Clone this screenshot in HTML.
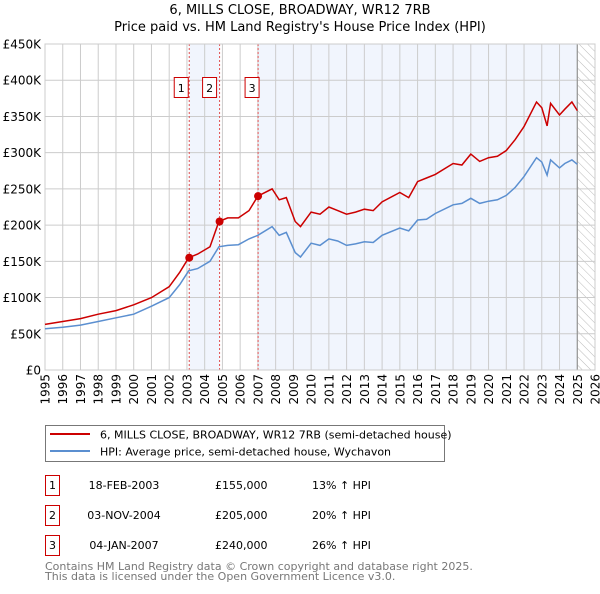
<!DOCTYPE html>
<html><head><meta charset="utf-8"><style>
body{margin:0;background:#fff;font-family:"DejaVu Sans","Liberation Sans",sans-serif;}
svg text{font-family:"DejaVu Sans","Liberation Sans",sans-serif;}
</style></head><body>
<svg id="chart" width="600" height="590" xmlns="http://www.w3.org/2000/svg">
<defs><pattern id="hatch" width="6" height="6" patternUnits="userSpaceOnUse" patternTransform="rotate(-45)"><line x1="0" y1="0" x2="0" y2="6" stroke="#bbb" stroke-width="1"/></pattern></defs>
<text x="300" y="14" text-anchor="middle" font-size="13">6, MILLS CLOSE, BROADWAY, WR12 7RB</text>
<text x="300" y="31" text-anchor="middle" font-size="13">Price paid vs. HM Land Registry's House Price Index (HPI)</text>
<g id="plot"></g>
<g>
<rect x="45.5" y="425.5" width="399" height="36" fill="#fff" stroke="#777"/>
<line x1="50" y1="434" x2="90" y2="434" stroke="#cc0000" stroke-width="2"/>
<text x="100" y="438.5" font-size="11">6, MILLS CLOSE, BROADWAY, WR12 7RB (semi-detached house)</text>
<line x1="50" y1="451" x2="90" y2="451" stroke="#5b8fd0" stroke-width="2"/>
<text x="100" y="455.5" font-size="11">HPI: Average price, semi-detached house, Wychavon</text>
</g>
<g font-size="11">
<rect x="45.5" y="475.5" width="14" height="20" fill="#fff" stroke="#cc0000"/><text x="52.5" y="489" text-anchor="middle">1</text>
<text x="124" y="489" text-anchor="middle">18-FEB-2003</text><text x="215" y="489">£155,000</text><text x="312" y="489">13% ↑ HPI</text>
<rect x="45.5" y="505.5" width="14" height="20" fill="#fff" stroke="#cc0000"/><text x="52.5" y="519" text-anchor="middle">2</text>
<text x="124" y="519" text-anchor="middle">03-NOV-2004</text><text x="215" y="519">£205,000</text><text x="312" y="519">20% ↑ HPI</text>
<rect x="45.5" y="535.5" width="14" height="20" fill="#fff" stroke="#cc0000"/><text x="52.5" y="549" text-anchor="middle">3</text>
<text x="124" y="549" text-anchor="middle">04-JAN-2007</text><text x="215" y="549">£240,000</text><text x="312" y="549">26% ↑ HPI</text>
</g>
<text x="45" y="570" font-size="11" fill="#777">Contains HM Land Registry data © Crown copyright and database right 2025.</text>
<text x="45" y="580" font-size="11" fill="#777">This data is licensed under the Open Government Licence v3.0.</text>
</svg>
<script>
const dates=[1995,1996,1997,1998,1999,2000,2001,2002,2002.6,2003.1,2003.6,2004.3,2004.8,2005.3,2005.9,2006.5,2007.0,2007.8,2008.2,2008.6,2009.1,2009.4,2010,2010.5,2011,2011.5,2012,2012.5,2013,2013.5,2014,2015,2015.5,2016,2016.5,2017,2018,2018.5,2019,2019.5,2020,2020.5,2021,2021.5,2022,2022.7,2023.0,2023.3,2023.5,2024,2024.3,2024.7,2025.0];
const hpiValues=[57,59,62,67,72,77,88,100,118,137,140,150,170,172,173,181,186,198,186,190,162,156,175,172,181,178,172,174,177,176,186,196,192,207,208,216,228,230,237,230,233,235,241,252,267,293,287,269,290,279,285,290,284];
const priceValues=[63,67,71,77,82,90,100,115,135,155,160,170,205,210,210,220,240,250,235,238,205,198,218,215,225,220,215,218,222,220,232,245,238,260,265,270,285,283,298,288,293,295,303,318,336,370,362,337,368,352,360,370,358];
const saleDates=[2003.13,2004.84,2007.01];
const salePrices=[155,205,240];
const saleLabels=["1","2","3"];
const yTicks=[0,50,100,150,200,250,300,350,400,450];
const yTickLabels=["£0","£50K","£100K","£150K","£200K","£250K","£300K","£350K","£400K","£450K"];
const xYears=[];for(let y=1995;y<=2026;y++)xYears.push(y);

const X0=45,X1=595,Y0=370,Y1=44;
const xs=d=>X0+(d-1995)/(2026-1995)*(X1-X0);
const ys=v=>Y0-(v/450)*(Y0-Y1);
const NS="http://www.w3.org/2000/svg";
const g=document.getElementById('plot');
function mk(t,a){const e=document.createElementNS(NS,t);for(const k in a)e.setAttribute(k,a[k]);g.appendChild(e);return e;}
let e;
e=mk('rect',{x:X0,y:Y1,width:X1-X0,height:Y0-Y1,fill:'#fff'});


// shading
e=mk('rect',{x:xs(saleDates[0]),y:Y1,width:xs(saleDates[1])-xs(saleDates[0]),height:Y0-Y1,fill:'#eef3fc',opacity:0.8});


e=mk('rect',{x:xs(saleDates[2]),y:Y1,width:xs(2025.0)-xs(saleDates[2]),height:Y0-Y1,fill:'#eef3fc',opacity:0.8});


e=mk('rect',{x:xs(2025.0),y:Y1,width:X1-xs(2025.0),height:Y0-Y1,fill:'url(#hatch)'});


// grid
yTicks.forEach((v,i)=>{
 e=mk('line',{x1:X0,x2:X1,y1:ys(v),y2:ys(v),stroke:'#ccc','stroke-width':1});
 
 
 e=mk('text',{x:X0-4,y:ys(v)+4.5,'text-anchor':'end','font-size':12});
 e.textContent=yTickLabels[i];
 
 
});
xYears.forEach(y=>{
 e=mk('line',{x1:xs(y),x2:xs(y),y1:Y1,y2:Y0,stroke:'#ccc','stroke-width':1});
 
 
 e=mk('text',{x:0,y:0,'text-anchor':'end','font-size':12,transform:`translate(${xs(y)+4.5},${Y0+4}) rotate(-90)`});
 e.textContent=y;
 
 
});
e=mk('line',{x1:xs(2025.0),x2:xs(2025.0),y1:Y1,y2:Y0,stroke:'#888','stroke-width':1});


saleDates.forEach((d,i)=>{
 e=mk('line',{x1:xs(d),x2:xs(d),y1:Y1,y2:Y0,stroke:'#e05050','stroke-width':1,'stroke-dasharray':'2,2'});
 
 
 const bx=xs(d)-(i==0?8:i==1?5:3);
 e=mk('rect',{x:xs(d)-(i==2?6:i==1?10:8)-7+ (i==2?0:0),y:77.5,width:14,height:20,fill:'#fff',stroke:'#cc0000'});
 
 
 e=mk('text',{x:xs(d)-(i==2?6:i==1?10:8),y:92,'text-anchor':'middle','font-size':11});
 e.textContent=saleLabels[i];
 
 
});
e=mk('rect',{x:X0,y:Y1,width:X1-X0,height:Y0-Y1,fill:'none',stroke:'#ccc'});


function pts(vals){return dates.map((d,i)=>xs(d).toFixed(1)+','+ys(vals[i]).toFixed(1)).join(' ');}
e=mk('polyline',{points:pts(hpiValues),fill:'none',stroke:'#5b8fd0','stroke-width':1.5});


e=mk('polyline',{points:pts(priceValues),fill:'none',stroke:'#cc0000','stroke-width':1.5});


saleDates.forEach((d,i)=>{
 e=mk('circle',{cx:xs(d),cy:ys(salePrices[i]),r:4,fill:'#cc0000'});
 
 
});
</script>
</body></html>
